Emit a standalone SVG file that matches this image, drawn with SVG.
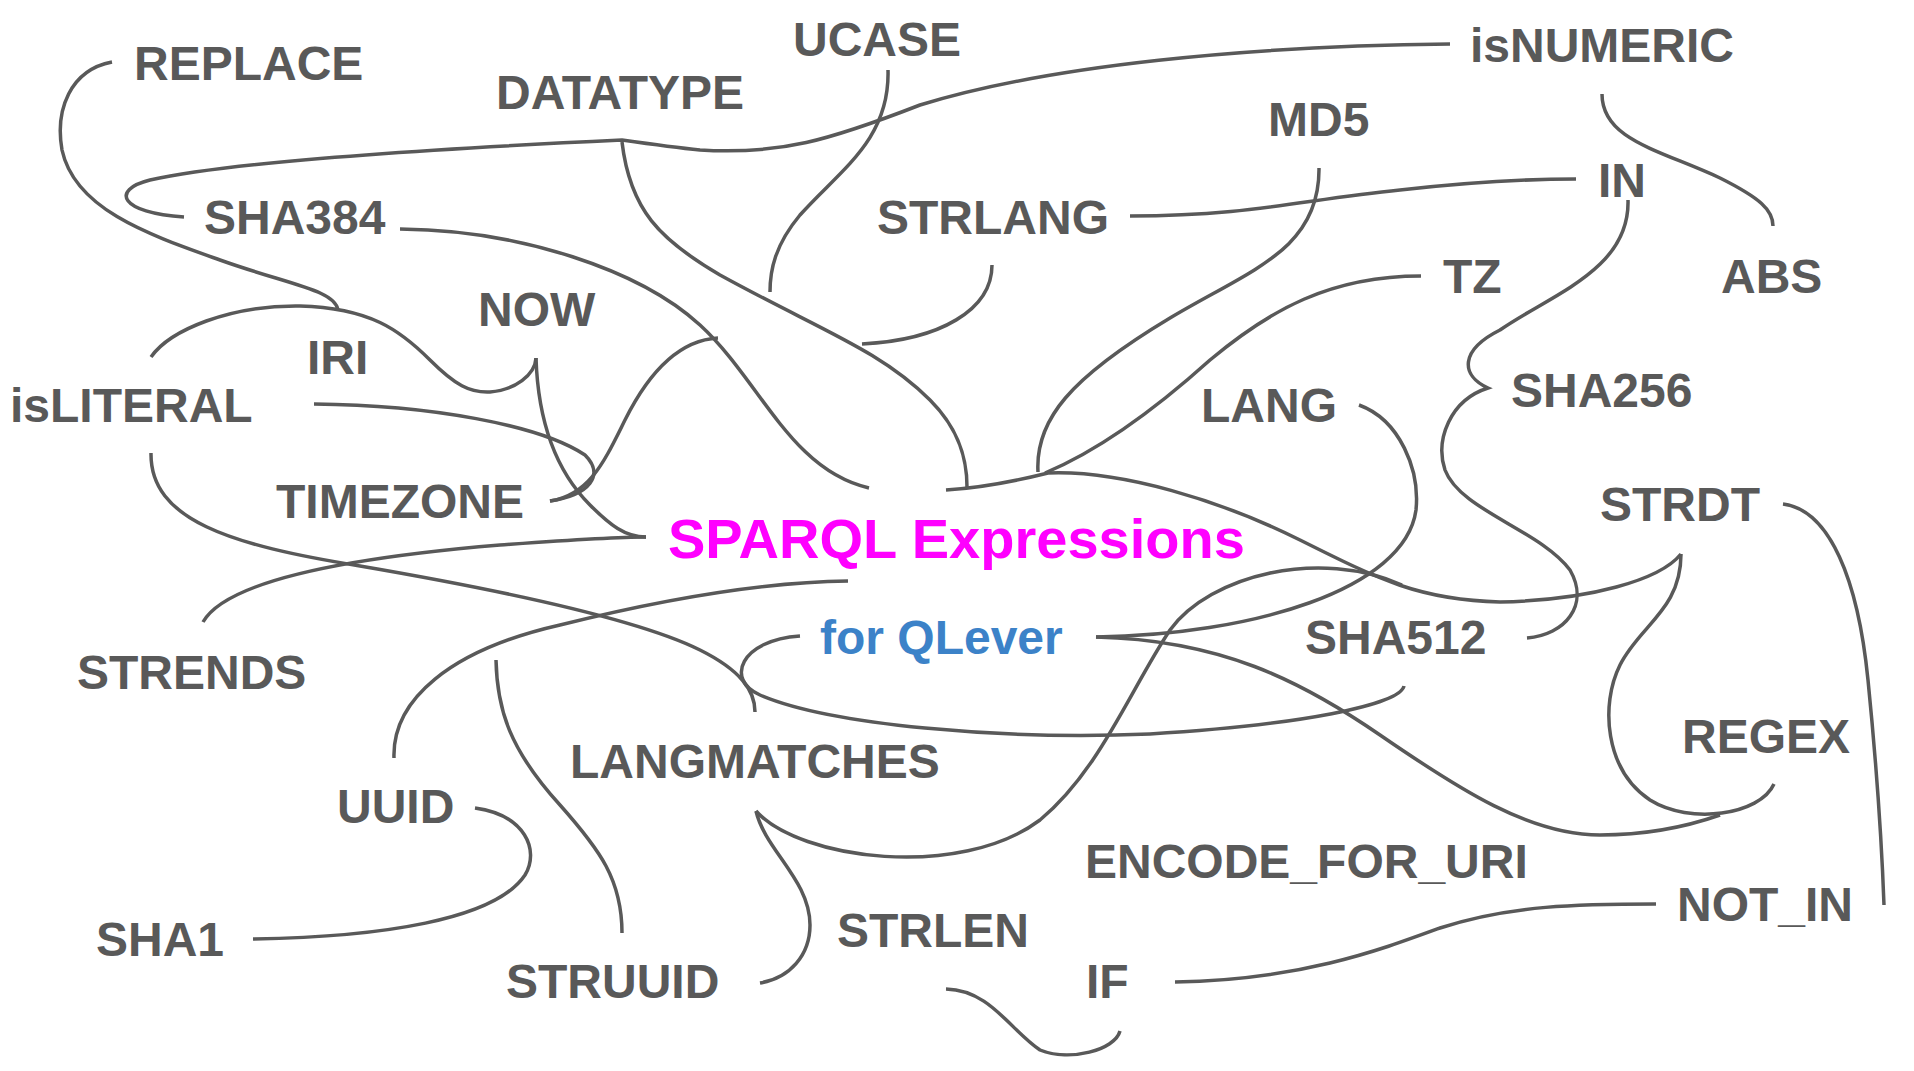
<svg xmlns="http://www.w3.org/2000/svg" width="1914" height="1071" viewBox="0 0 1914 1071">
<style>
text{font-family:"Liberation Sans",Arial,sans-serif;font-weight:bold;font-size:48px;fill:#595959}
.main{font-size:56px;fill:#ff00ff}
.sub{fill:#3c82c8}
#connectors path{fill:none;stroke:#595959;stroke-width:3.5}
</style>
<rect width="1914" height="1071" fill="#ffffff"/>
<g id="connectors">
<path d="M112,62 C70,70 55,110 62,150 C75,210 150,235 220,260 C290,285 335,290 338,310"/>
<path d="M1450,44 C1250,46 1050,65 920,105 C830,140 780,155 700,150 C680,148 650,144 622,140 C450,148 240,160 150,180 C110,190 120,213 184,217"/>
<path d="M622,142 C630,210 660,240 720,275 C820,330 880,350 930,400 C960,430 967,460 967,487"/>
<path d="M888,70 C890,140 840,170 800,215 C775,245 770,270 770,292"/>
<path d="M992,265 C992,310 940,340 862,344"/>
<path d="M1130,216 C1250,216 1300,200 1400,190 C1480,181 1530,179 1576,179"/>
<path d="M1319,168 C1320,250 1250,270 1170,318 C1070,378 1035,420 1038,472"/>
<path d="M1421,276 C1330,276 1270,310 1210,360 C1160,405 1100,450 1045,473"/>
<path d="M946,490 C980,488 1020,480 1048,473 C1120,470 1220,500 1300,540 C1380,580 1420,600 1500,602 C1590,600 1660,580 1681,554"/>
<path d="M1628,200 C1630,270 1550,295 1500,330 C1460,350 1460,375 1488,388 C1450,400 1435,440 1445,470 C1460,510 1540,530 1570,570 C1590,605 1565,635 1527,638"/>
<path d="M1602,94 C1602,140 1660,150 1720,178 C1760,198 1773,210 1773,226"/>
<path d="M1783,504 C1830,510 1858,580 1868,680 C1876,760 1882,850 1884,905"/>
<path d="M1681,554 C1681,610 1640,625 1620,665 C1600,705 1605,770 1650,800 C1690,825 1760,815 1774,784"/>
<path d="M1096,637 C1220,640 1300,680 1380,735 C1460,790 1530,835 1600,835 C1660,835 1700,822 1720,815"/>
<path d="M1359,405 C1400,420 1420,470 1416,510 C1405,590 1250,635 1096,637"/>
<path d="M756,811 C800,860 960,880 1040,820 C1100,770 1130,690 1170,630 C1210,575 1320,548 1402,585"/>
<path d="M1404,686 C1400,705 1300,725 1150,734 C1000,740 830,725 760,695 C725,680 740,640 800,636"/>
<path d="M151,453 C150,520 230,545 360,566 C500,590 640,620 700,650 C740,670 755,690 755,712"/>
<path d="M394,758 C392,700 450,650 560,625 C660,600 760,582 848,581"/>
<path d="M496,660 C497,710 510,750 560,805 C600,850 622,880 622,933"/>
<path d="M756,811 C765,850 810,880 810,925 C810,955 790,978 760,983"/>
<path d="M946,989 C990,990 1010,1030 1040,1050 C1070,1062 1115,1050 1120,1031"/>
<path d="M1175,982 C1300,980 1380,950 1440,928 C1510,905 1580,904 1656,904"/>
<path d="M475,808 C525,815 540,850 525,875 C495,920 380,937 253,939"/>
<path d="M151,357 C170,330 230,305 300,306 C370,308 400,330 430,360 C455,385 470,393 490,392 C515,390 535,375 536,358"/>
<path d="M536,358 C538,420 555,470 590,505 C610,525 625,537 646,537"/>
<path d="M203,622 C230,575 380,555 500,545 C570,540 610,537 646,537"/>
<path d="M314,404 C430,405 540,425 585,455 C605,475 590,495 550,501"/>
<path d="M550,501 C590,495 605,460 625,420 C650,370 680,340 718,338"/>
<path d="M400,229 C520,230 640,270 700,325 C760,380 790,470 869,488"/>
</g>
<g id="n-replace"><text x="134" y="80">REPLACE</text></g>
<g id="n-datatype"><text x="496" y="109">DATATYPE</text></g>
<g id="n-ucase"><text x="793" y="56">UCASE</text></g>
<g id="n-isnumeric"><text x="1470" y="62">isNUMERIC</text></g>
<g id="n-md5"><text x="1268" y="136">MD5</text></g>
<g id="n-sha384"><text x="204" y="234">SHA384</text></g>
<g id="n-strlang"><text x="877" y="234">STRLANG</text></g>
<g id="n-in"><text x="1598" y="197">IN</text></g>
<g id="n-tz"><text x="1443" y="293">TZ</text></g>
<g id="n-abs"><text x="1721" y="293">ABS</text></g>
<g id="n-now"><text x="478" y="326">NOW</text></g>
<g id="n-iri"><text x="307" y="374">IRI</text></g>
<g id="n-isliteral"><text x="10" y="422">isLITERAL</text></g>
<g id="n-lang"><text x="1201" y="422">LANG</text></g>
<g id="n-sha256"><text x="1511" y="407">SHA256</text></g>
<g id="n-timezone"><text x="276" y="518">TIMEZONE</text></g>
<g id="n-strdt"><text x="1600" y="521">STRDT</text></g>
<g id="n-center"><text class="main" x="668" y="558">SPARQL Expressions</text></g>
<g id="n-qlever"><text class="sub" x="820" y="654">for QLever</text></g>
<g id="n-sha512"><text x="1305" y="654">SHA512</text></g>
<g id="n-strends"><text x="77" y="689">STRENDS</text></g>
<g id="n-langmatches"><text x="570" y="778">LANGMATCHES</text></g>
<g id="n-regex"><text x="1682" y="753">REGEX</text></g>
<g id="n-uuid"><text x="337" y="823">UUID</text></g>
<g id="n-encode"><text x="1085" y="878">ENCODE_FOR_URI</text></g>
<g id="n-notin"><text x="1677" y="921">NOT_IN</text></g>
<g id="n-strlen"><text x="837" y="947">STRLEN</text></g>
<g id="n-sha1"><text x="96" y="956">SHA1</text></g>
<g id="n-struuid"><text x="506" y="998">STRUUID</text></g>
<g id="n-if"><text x="1086" y="998">IF</text></g>
</svg>
